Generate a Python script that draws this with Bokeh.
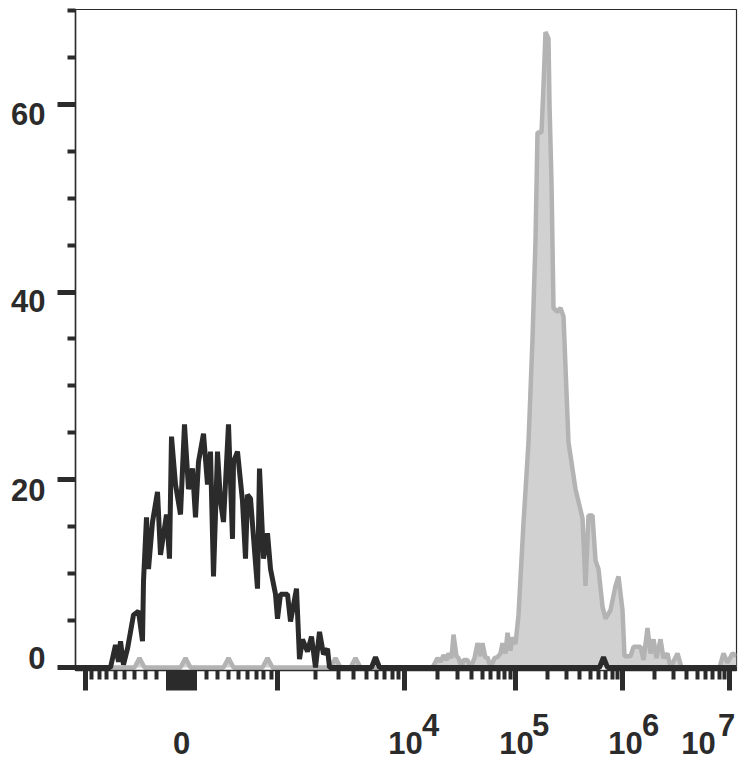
import numpy as np
from bokeh.plotting import figure
from bokeh.models import FixedTicker, CustomJSTickFormatter, LinearAxis
from bokeh.embed import file_html
from bokeh.resources import INLINE

# ---- data (x in display channels of the biexponential axis, y = count) ----
black_ch = [0, 35, 40, 43, 45, 48, 52, 58, 63, 67, 68, 71, 73, 77, 82, 85, 91, 94, 96, 100,
            105, 109, 113, 117, 120, 123, 128, 132, 135, 138, 142, 145, 148, 153, 157, 158,
            162, 167, 170, 172, 175, 182, 184, 188, 192, 195, 200, 202, 205, 212, 215, 221,
            224, 227, 232, 236, 240, 244, 248, 252, 254, 296, 300, 304, 524, 528, 532, 661]
black_count = [0, 0, 2.4, 0.6, 2.8, 0.3, 2.0, 5.6, 6.0, 2.8, 9.2, 16, 10.5, 15.5, 18.7, 12,
               16.3, 11.6, 24.6, 19.5, 16.3, 25.9, 19, 21.2, 16, 21.9, 24.9, 19.5, 23, 9.7, 23,
               17.7, 15.5, 25.9, 13.7, 21.9, 23, 17.7, 11.6, 18.4, 18, 8.4, 21.2, 11.6, 14.3,
               10.5, 7.8, 5.2, 7.8, 7.8, 4.9, 8.4, 0.9, 3, 1.7, 3.3, 0, 3.8, 1.4, 2, 0,
               0, 1.1, 0, 0, 1.1, 0, 0]

gray_ch = [0, 59, 64, 69, 105, 110, 115, 148, 153, 158, 187, 192, 197, 255, 260, 265, 275, 280,
           285, 357, 362, 365, 368, 371, 373, 376, 378, 381, 383, 386, 388, 392, 395, 399, 402,
           405, 407, 410, 412, 415, 419, 422, 425, 427, 430, 432, 435, 437, 440, 443, 448, 453,
           457, 460, 462, 466, 468, 470, 473, 474, 476, 478, 482, 485, 488, 490, 493, 500, 507,
           510, 513, 517, 520, 523, 527, 530, 535, 540, 543, 547, 549, 555, 558, 565, 568, 572,
           575, 578, 581, 585, 588, 592, 595, 602, 606, 644, 648, 652, 657, 661]
gray_count = [0, 0, 1, 0, 0, 1, 0, 0, 1, 0, 0, 1, 0, 0, 1, 0, 0, 1,
              0, 0, 1, 0.6, 1.3, 0.8, 1.5, 1.0, 3.5, 1.2, 1, 0, 0.8, 0.8, 0, 1, 2.6,
              1.2, 2.6, 1.0, 1.1, 0, 1.0, 1.1, 1.5, 2.6, 1.5, 3.7, 1.8, 3.2, 2.5, 5.6, 15.4, 24,
              35, 45.5, 57, 57, 62, 67.7, 67, 60, 51.7, 38.3, 37.9, 38.3, 37.4, 32, 24, 19, 15.9,
              8.7, 16.2, 16.2, 11.4, 10.5, 6.5, 5.2, 6.1, 8.7, 9.7, 6.1, 1.2, 1.2, 2.2, 2.2, 0.8, 4.2,
              1.5, 3, 1, 3, 1, 1.5, 0, 1.5, 0, 0, 1.5, 0.5, 1.5, 1.2]

# axis tick values (fluorescence units) and labels
x_major_vals = [-1e3, 0, 1e3, 1e4, 1e5, 1e6, 1e7]
x_zero_block = [s * v for s in (-1, 1) for v in range(10, 101, 10)]
x_minor_vals = ([-m * 100 for m in range(2, 10)] + [m * 100 for m in range(2, 10)] +
                [m * 10 ** d for d in (3, 4, 5, 6) for m in range(2, 10)])
x_base_vals = [0, 1e4, 1e5, 1e6, 1e7]
x_base_labels = ["0", "10", "10", "10", "10"]
x_exp_vals = [1e4, 1e5, 1e6, 1e7]
x_exp_labels = ["4", "5", "6", "7"]
y_major = [0, 20, 40, 60]
y_labels = ["0", "20", "40", "60"]
y_minor = [5, 10, 15, 25, 30, 35, 45, 50, 55, 65, 70]

# label nudges in screen pixels (as in the exported picture)
base_dx = [0, 1, 1, 3, -31]
exp_dx = [26, 25, 28, -3]
y_label_dy = [-9, 10, 9, 10]   # positive = downwards

Y_PX = 661 / (70.1 + 0.32)     # pixels per count unit


def to_channel(v):
    """Biexponential display transform: linear-ish around 0, log above 10^3."""
    v = np.atleast_1d(np.asarray(v, dtype=float))
    out = np.empty_like(v)
    low = np.abs(v) <= 1000
    out[low] = 106 + 73.2 * np.arcsinh(v[low] / 580.0)
    hi = v > 1000
    out[hi] = np.interp(np.log10(v[hi]), [3, 4, 5, 6, 7], [202, 329, 440, 547, 654])
    return np.round(out, 2)


def label_formatter(pos, lab):
    return CustomJSTickFormatter(
        args=dict(pos=[float(t) for t in pos], lab=list(lab)),
        code="for (let i = 0; i < pos.length; i++) { if (Math.abs(tick - pos[i]) < 0.01) return lab[i]; } return '';")


FONT = "Liberation Sans"
INK = "#2b2b2b"
FS = "31px"

p = figure(frame_width=661, frame_height=661, x_range=(0, 661), y_range=(-0.32, 70.1),
           output_backend="svg", toolbar_location=None,
           min_border_left=75, min_border_right=4, min_border_top=9, min_border_bottom=100)
p.grid.visible = False
p.background_fill_color = "white"
p.outline_line_color = INK
p.outline_line_width = 1.2

# gray (stained) histogram
p.varea(x=gray_ch, y1=0, y2=gray_count, fill_color="#d1d1d1")
p.line(gray_ch, gray_count, line_color="#b3b3b3", line_width=4.5)
# black (control) histogram
p.line(black_ch, black_count, line_color=INK, line_width=5)


def style_labels(ax, standoff):
    ax.major_label_standoff = standoff
    ax.major_label_text_font = FONT
    ax.major_label_text_font_size = FS
    ax.major_label_text_font_style = "bold"
    ax.major_label_text_color = INK


def no_ticks(ax):
    ax.axis_line_color = None
    ax.major_tick_line_color = None
    ax.minor_tick_line_color = None
    ax.major_tick_out = 0
    ax.minor_tick_out = 0
    ax.major_tick_in = 0
    ax.minor_tick_in = 0


# ---- x axis: ticks only ----
major_pos = list(to_channel(x_major_vals)) + list(to_channel(x_zero_block))
xa = p.xaxis[0]
xa.ticker = FixedTicker(ticks=[float(t) for t in major_pos],
                        minor_ticks=[float(t) for t in to_channel(x_minor_vals)])
xa.formatter = label_formatter([], [])
xa.major_label_text_font_size = "1px"
xa.major_label_standoff = 0
xa.major_tick_in = 0
xa.major_tick_out = 20
xa.minor_tick_in = 0
xa.minor_tick_out = 9
xa.major_tick_line_width = 5
xa.minor_tick_line_width = 4
xa.major_tick_line_color = INK
xa.minor_tick_line_color = INK
xa.axis_line_color = INK
xa.axis_line_width = 1.5

# exponent row
exp_pos = to_channel(x_exp_vals) + np.array(exp_dx)
xb = LinearAxis(ticker=FixedTicker(ticks=[float(t) for t in exp_pos], minor_ticks=[]),
                formatter=label_formatter(exp_pos, x_exp_labels))
no_ticks(xb)
style_labels(xb, 23)
p.add_layout(xb, "below")

# base row ("0", "10")
base_pos = to_channel(x_base_vals) + np.array(base_dx)
xc = LinearAxis(ticker=FixedTicker(ticks=[float(t) for t in base_pos], minor_ticks=[]),
                formatter=label_formatter(base_pos, x_base_labels))
no_ticks(xc)
style_labels(xc, -7)
p.add_layout(xc, "below")

# ---- y axis: ticks only ----
ya = p.yaxis[0]
ya.ticker = FixedTicker(ticks=y_major, minor_ticks=y_minor)
ya.formatter = label_formatter([], [])
ya.major_label_text_font_size = "1px"
ya.major_label_standoff = 0
ya.major_tick_in = 0
ya.major_tick_out = 18
ya.minor_tick_in = 0
ya.minor_tick_out = 8
ya.major_tick_line_width = 5
ya.minor_tick_line_width = 4
ya.major_tick_line_color = INK
ya.minor_tick_line_color = INK
ya.axis_line_color = INK
ya.axis_line_width = 1.5

ylab_pos = np.round(np.array(y_major, dtype=float) - np.array(y_label_dy) / Y_PX, 3)
yb = LinearAxis(ticker=FixedTicker(ticks=[float(t) for t in ylab_pos], minor_ticks=[]),
                formatter=label_formatter(ylab_pos, y_labels))
no_ticks(yb)
style_labels(yb, 12)
p.add_layout(yb, "left")

open("out.html", "w").write(file_html(p, INLINE))
